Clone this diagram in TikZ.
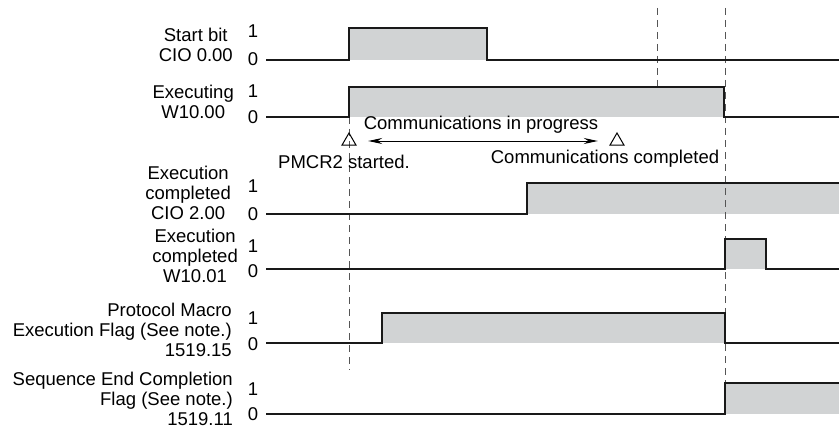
\documentclass[tikz,border=0pt]{standalone}
\usepackage{fontspec}
\setmainfont{Liberation Sans}
\usepackage{xcolor}
\usetikzlibrary{shapes.geometric, arrows.meta, positioning, calc}
\definecolor{hifill}{HTML}{D1D3D4}
\definecolor{dashgray}{HTML}{555555}

\begin{document}
\begin{tikzpicture}[
    x=1pt, y=-1pt,
    font=\fontsize{18.5}{20}\selectfont,
    sig/.style={line width=2.3pt, color=black!90, line join=miter},
    hi/.style={fill=hifill},
    vline/.style={dash pattern=on 7pt off 5pt, line width=1pt, color=dashgray},
    lbl/.style={anchor=east, align=center, inner sep=0pt},
    lblr/.style={anchor=east, align=right, inner sep=0pt},
    lvl/.style={inner sep=0pt},
    tri/.style={regular polygon, regular polygon sides=3, draw, line width=1pt, minimum size=16pt, inner sep=0pt},
    arr/.style={{Stealth[length=14pt,width=6pt]}-{Stealth[length=14pt,width=6pt]}, line width=1pt, shorten <=14pt, shorten >=14pt}
]
\useasboundingbox (0,0) rectangle (839,428);

\node[lbl] (startlbl) at (233,45) {Start bit\\CIO 0.00};
\node[lvl] (start1) at (253,31) {1};
\node[lvl] (start0) at (253,59) {0};

\node[lbl] (execlbl) at (234,102) {Executing\\W10.00};
\node[lvl] (exec1) at (253,91) {1};
\node[lvl] (exec0) at (253,117) {0};

\node[lbl] (cioclbl) at (231,193) {Execution\\completed\\CIO 2.00};
\node[lvl] (cioc1) at (253,186) {1};
\node[lvl] (cioc0) at (253,214) {0};

\node[lbl] (wclbl) at (238,256) {Execution\\completed\\W10.01};
\node[lvl] (wc1) at (253,246) {1};
\node[lvl] (wc0) at (253,271) {0};

\node[lblr] (pmflbl) at (232,330) {Protocol Macro\\Execution Flag (See note.)\\1519.15};
\node[lvl] (pmf1) at (253,318) {1};
\node[lvl] (pmf0) at (253,344) {0};

\node[lblr] (seqlbl) at (233,399) {Sequence End Completion\\Flag (See note.)\\1519.11};
\node[lvl] (seq1) at (253,389) {1};
\node[lvl] (seq0) at (253,414) {0};

\fill[hi] (349,28) rectangle (487,60);
\fill[hi] (349,87) rectangle (724,117);
\fill[hi] (527,183) rectangle (839,214);
\fill[hi] (725,239) rectangle (766,269);
\fill[hi] (382,313) rectangle (725,343);
\fill[hi] (725,383) rectangle (839,414);

\draw[vline] (349,117) -- (349,370);
\draw[vline] (657,8) -- (657,87);
\draw[vline] (725,8) -- (725,383);

\draw[sig] (266,60) -- (349,60) -- (349,28) -- (487,28) -- (487,60) -- (840,60);
\draw[sig] (266,117) -- (349,117) -- (349,87) -- (724,87) -- (724,117) -- (840,117);
\draw[sig] (266,214) -- (527,214) -- (527,183) -- (840,183);
\draw[sig] (266,269) -- (725,269) -- (725,239) -- (766,239) -- (766,269) -- (840,269);
\draw[sig] (266,343) -- (382,343) -- (382,313) -- (725,313) -- (725,343) -- (840,343);
\draw[sig] (266,414) -- (725,414) -- (725,383) -- (840,383);

\node[tri] (pmcrtri) at (349,141) {};
\node[tri] (donetri) at (617,141) {};
\draw[arr] (pmcrtri) -- (donetri);

\node (progtxt) at (481,125) {Communications in progress};
\node (pmcrtxt) at (344,162) {PMCR2 started.};
\node (donetxt) at (605,159) {Communications completed};

\end{tikzpicture}
\end{document}
